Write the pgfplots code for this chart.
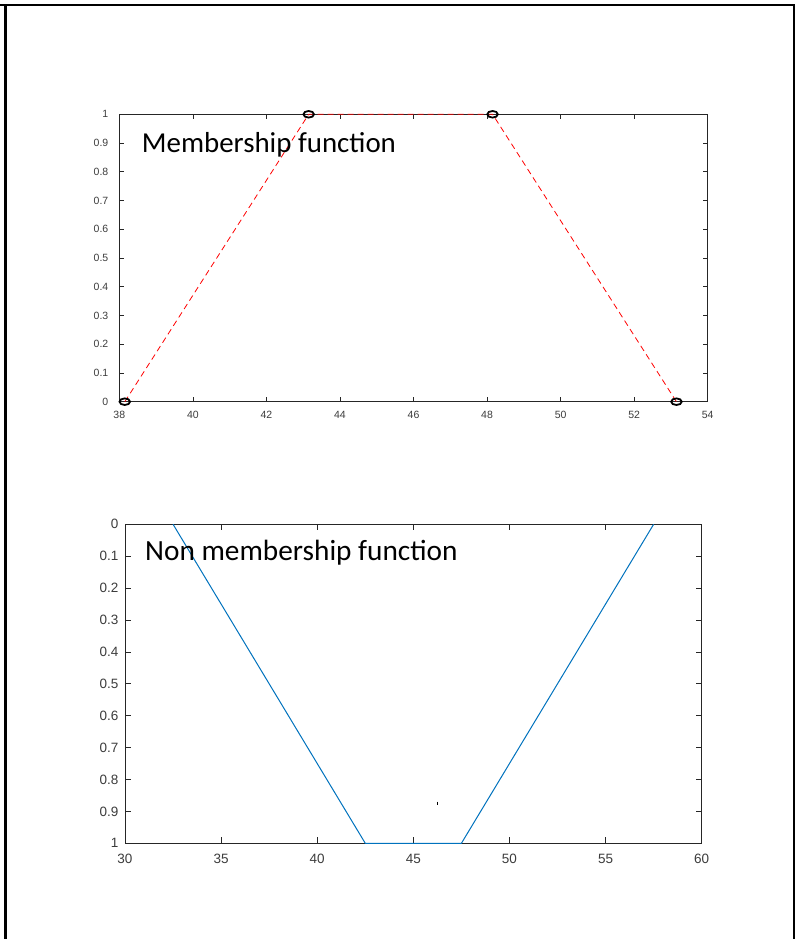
\documentclass[border=0pt]{standalone}
\usepackage{pgfplots}
\pgfplotsset{compat=1.18}
\usepackage{fontspec}
\setmainfont{Liberation Sans}
\newfontfamily\calibri{Carlito}
\definecolor{mblue}{rgb}{0,0.447,0.741}
\definecolor{axgray}{RGB}{38,38,38}
\definecolor{lblgray}{RGB}{60,60,60}
\begin{document}
\begin{tikzpicture}
\path[use as bounding box] (0pt,0pt) rectangle (801pt,939pt);
\draw[line width=2pt,black] (0pt,934pt) -- (795pt,934pt);
\draw[line width=2.2pt,black] (5.5pt,0pt) -- (5.5pt,935pt);
\draw[line width=2.2pt,black] (794pt,0pt) -- (794pt,935pt);

% top axis
\begin{axis}[
  at={(119.3pt,537.3pt)}, anchor=south west,
  scale only axis, width=588.4pt, height=287.4pt,
  xmin=38, xmax=54, ymin=0, ymax=1,
  xtick={38,40,...,54}, ytick={0,0.1,...,1.01},
  yticklabels={0,0.1,0.2,0.3,0.4,0.5,0.6,0.7,0.8,0.9,1},
  tick align=inside, major tick length=5pt,
  axis line style={axgray, line width=0.9pt},
  every tick/.style={axgray, line width=0.7pt},
  ticklabel style={font=\fontsize{10.5}{11}\selectfont, text=lblgray},
  /pgf/number format/assume math mode=true,
  xticklabel style={yshift=-5.5pt, text height=7.6pt, text depth=0pt},
  yticklabel style={xshift=-7.5pt},
  clip=false,
]
\addplot[red, line width=0.8pt, dash pattern=on 6pt off 4pt] coordinates {
  (38.15,0) (43.15,1) (48.15,1) (53.15,0)};
\addplot[only marks, mark=o, mark size=3.3pt,
  mark options={xscale=1.6, line width=1.8pt, black}] coordinates {
  (38.15,0) (43.15,1) (48.15,1) (53.15,0)};
\end{axis}

% bottom axis
\begin{axis}[
  at={(125pt,95.7pt)}, anchor=south west,
  scale only axis, width=576.7pt, height=319pt,
  xmin=30, xmax=60, ymin=0, ymax=1, y dir=reverse,
  xtick={30,35,...,60}, ytick={0,0.1,...,1.01},
  yticklabels={0,0.1,0.2,0.3,0.4,0.5,0.6,0.7,0.8,0.9,1},
  tick align=inside, major tick length=6pt,
  axis line style={axgray, line width=0.9pt},
  every tick/.style={axgray, line width=0.7pt},
  ticklabel style={font=\fontsize{13.5}{14}\selectfont, text=lblgray},
  /pgf/number format/assume math mode=true,
  xticklabel style={yshift=-7pt, text height=9.8pt, text depth=0pt},
  yticklabel style={xshift=-3pt},
]
\addplot[mblue, line width=1pt] coordinates {
  (32.5,0) (42.5,1) (47.5,1) (57.5,0)};
\addplot[only marks, mark=|, mark size=1.8pt,
  mark options={line width=0.6pt, black}] coordinates {(46.22,0.875)};
\end{axis}

\node[anchor=base west, inner sep=0pt, font=\calibri\fontsize{28.9}{30}\selectfont]
  at (141.7pt,786.7pt) {Membership function};
\node[anchor=base west, inner sep=0pt, font=\calibri\fontsize{29.3}{30}\selectfont]
  at (145pt,378.3pt) {Non membership function};
\end{tikzpicture}
\end{document}
